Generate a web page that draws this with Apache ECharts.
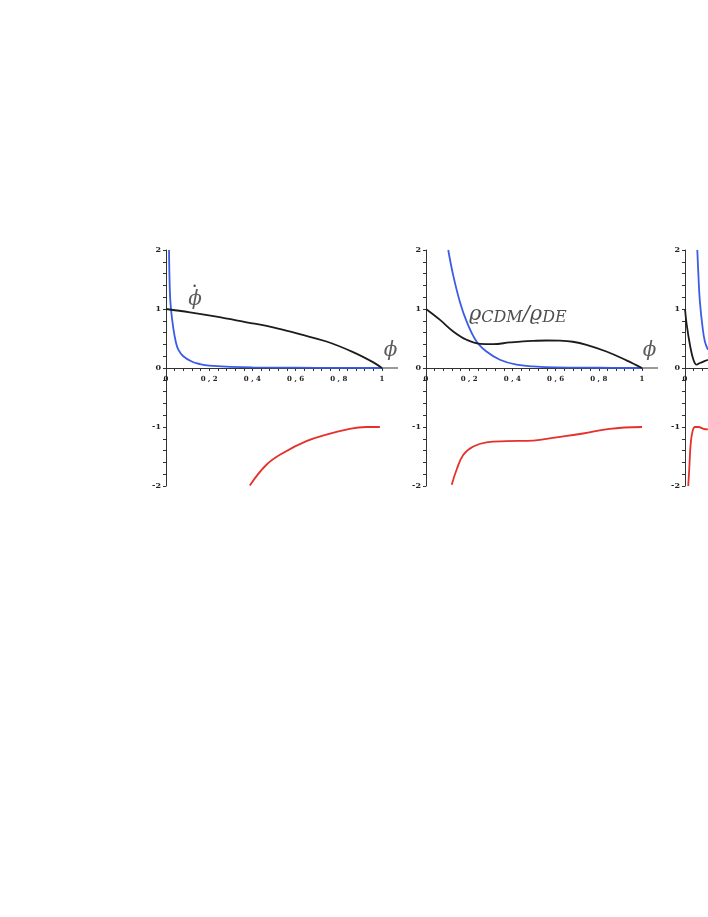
<!DOCTYPE html>
<html>
<head>
<meta charset="utf-8">
<script src="https://cdn.jsdelivr.net/npm/echarts@6/dist/echarts.min.js"></script>
<style>
  html, body { margin: 0; padding: 0; background: #fff; overflow: hidden; }
  #chart { width: 708px; height: 917px; }
</style>
</head>
<body>
<div id="chart"></div>
<script>
// tick values / labels
const xTicks = [0, 0.2, 0.4, 0.6, 0.8, 1];
const xTickLabels = ['0', '0 , 2', '0 , 4', '0 , 6', '0 , 8', '1'];
const yTicks = [-2, -1, 0, 1, 2];
const yTickLabels = ['-2', '-1', '0', '1', '2'];

// panel 1
const p1Black = [[0, 1.0], [0.111, 0.944], [0.234, 0.87], [0.373, 0.775], [0.496, 0.69], [0.619, 0.573],
  [0.743, 0.449], [0.866, 0.27], [0.958, 0.10], [1, 0]];
const p1Blue = [[0.014, 2.0], [0.018, 1.29], [0.023, 1.0], [0.034, 0.67], [0.045, 0.45], [0.057, 0.31],
  [0.08, 0.2], [0.119, 0.11], [0.157, 0.067], [0.2, 0.04], [0.3, 0.02], [0.4, 0.01], [0.6, 0.005], [0.8, 0.002], [1, 0]];
const p1Red = [[0.388, -1.99], [0.465, -1.64], [0.542, -1.44], [0.65, -1.24], [0.743, -1.13], [0.85, -1.03],
  [0.928, -1.0], [0.99, -1.0]];

// panel 2
const p2Black = [[0, 1.0], [0.065, 0.815], [0.126, 0.62], [0.188, 0.478], [0.25, 0.41], [0.311, 0.405],
  [0.388, 0.433], [0.45, 0.452], [0.496, 0.46], [0.558, 0.466], [0.62, 0.463], [0.68, 0.445], [0.743, 0.393],
  [0.835, 0.28], [0.928, 0.13], [1, 0]];
const p2Blue = [[0.103, 2.0], [0.126, 1.57], [0.157, 1.12], [0.188, 0.79], [0.234, 0.45], [0.28, 0.28],
  [0.342, 0.14], [0.419, 0.056], [0.496, 0.028], [0.6, 0.01], [0.8, 0.004], [1, 0]];
const p2Red = [[0.119, -1.98], [0.142, -1.72], [0.173, -1.47], [0.219, -1.33], [0.28, -1.26], [0.373, -1.24],
  [0.496, -1.23], [0.604, -1.175], [0.727, -1.11], [0.85, -1.03], [1, -1.0]];

// panel 3 (cut off at the right edge)
const p3Black = [[0, 1.0], [0.008, 0.73], [0.023, 0.39], [0.039, 0.14], [0.054, 0.056], [0.069, 0.084],
  [0.092, 0.12], [0.106, 0.14]];
const p3Blue = [[0.057, 2.0], [0.062, 1.58], [0.069, 1.12], [0.082, 0.67], [0.092, 0.45], [0.106, 0.31]];
const p3Red = [[0.015, -2.0], [0.02, -1.69], [0.026, -1.3], [0.035, -1.07], [0.046, -1.0], [0.062, -1.0],
  [0.085, -1.03], [0.106, -1.04]];

// annotations [x, y, text] per panel
const notes = [
  [[0.134, 1.15, 'phi'], [0.133, 1.37, 'dot'], [1.04, 0.3, 'phi']],
  [[0.425, 0.9, 'rho'], [1.035, 0.3, 'phi']],
  []
];

const BLACK = '#1c1c1c', BLUE = '#3a5ce6', RED = '#e5302b';
const panelLeft = [166, 426, 685];

function pick(list, labels, v) {
  const i = list.findIndex(t => Math.abs(t - v) < 1e-6);
  return i < 0 ? '' : labels[i];
}

function noteText(name) {
  if (name === 'rho') return '{r|ϱ}{s|CDM}{r|/ϱ}{s|DE}';
  if (name === 'dot') return '{d|•}';
  return '{p|ϕ}';
}

const chart = echarts.init(document.getElementById('chart'));
const grids = [], xAxes = [], yAxes = [], series = [];
const panels = [[p1Black, p1Blue, p1Red], [p2Black, p2Blue, p2Red], [p3Black, p3Blue, p3Red]];

panels.forEach((lines, k) => {
  grids.push({ left: panelLeft[k], top: 250, width: 216, height: 236, containLabel: false, outerBoundsMode: 'none' });
  xAxes.push({
    type: 'value', gridIndex: k, min: 0, max: 1, interval: 0.2, position: 'bottom', offset: -118,
    axisLine: { onZero: false, lineStyle: { color: '#333', width: 1 }, symbol: ['none', 'rect'], symbolSize: [1, 16], symbolOffset: [0, 8] },
    axisTick: { show: true, length: 3, lineStyle: { color: '#333' } },
    minorTick: { show: true, splitNumber: 5, length: 3, lineStyle: { color: '#333' } },
    splitLine: { show: false },
    axisLabel: {
      margin: 8, fontSize: 7, fontWeight: 'bold', fontFamily: 'DejaVu Serif', color: '#222',
      formatter: v => pick(xTicks, xTickLabels, v)
    }
  });
  yAxes.push({
    type: 'value', gridIndex: k, min: -2, max: 2, interval: 1,
    axisLine: { onZero: false, lineStyle: { color: '#333', width: 1 } },
    axisTick: { show: true, length: 3, lineStyle: { color: '#333' } },
    minorTick: { show: true, splitNumber: 5, length: 3, lineStyle: { color: '#333' } },
    splitLine: { show: false },
    axisLabel: {
      margin: 5, fontSize: 8, fontWeight: 'bold', fontFamily: 'DejaVu Serif', color: '#222',
      formatter: v => pick(yTicks, yTickLabels, v)
    }
  });
  [BLACK, BLUE, RED].forEach((c, j) => {
    series.push({
      type: 'line', xAxisIndex: k, yAxisIndex: k, data: lines[j],
      showSymbol: false, smooth: 0.4, clip: true,
      lineStyle: { color: c, width: 1.8 }, z: j === 0 ? 3 : 2
    });
  });
  series.push({
    type: 'scatter', xAxisIndex: k, yAxisIndex: k, symbolSize: 0, clip: false,
    data: notes[k].map(n => ({ value: [n[0], n[1]], name: n[2] })),
    label: {
      show: true, position: 'inside', color: '#222',
      formatter: p => noteText(p.name),
      rich: {
        p: { fontFamily: 'DejaVu Serif', fontStyle: 'italic', fontSize: 20, color: '#333' },
        d: { fontFamily: 'DejaVu Sans', fontSize: 8, color: '#222' },
        r: { fontFamily: 'DejaVu Serif', fontStyle: 'italic', fontSize: 21, color: '#222' },
        s: { fontFamily: 'DejaVu Serif', fontStyle: 'italic', fontSize: 16, color: '#222', verticalAlign: 'bottom', padding: [5, 0, 0, 0] }
      }
    }
  });
});

chart.setOption({
  animation: false,
  backgroundColor: '#fff',
  grid: grids,
  xAxis: xAxes,
  yAxis: yAxes,
  series: series
});
</script>
</body>
</html>
